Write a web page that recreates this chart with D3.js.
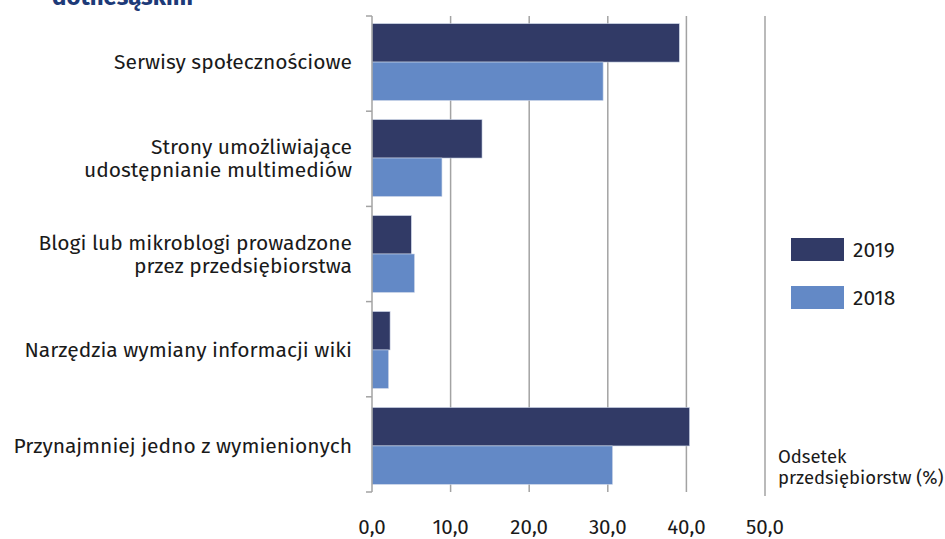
<!DOCTYPE html>
<html>
<head>
<meta charset="utf-8">
<script src="https://cdn.jsdelivr.net/npm/d3@7"></script>
<style>
  body { margin: 0; background: #fff; }
  svg { display: block; font-family: "Fira Sans", "Noto Sans", "Open Sans", sans-serif; }
</style>
</head>
<body>
<script>
const categories = [
    ["Serwisy społecznościowe"],
    ["Strony umożliwiające", "udostępnianie multimediów"],
    ["Blogi lub mikroblogi prowadzone", "przez przedsiębiorstwa"],
    ["Narzędzia wymiany informacji wiki"],
    ["Przynajmniej jedno z wymienionych"]
];
const years = ["2019", "2018"];
const values2019 = [39.1, 14.0, 5.0, 2.3, 40.4];
const values2018 = [29.4, 8.9, 5.4, 2.1, 30.6];
const ticks = [0, 10, 20, 30, 40, 50];

const colours = {"2019": "#313a66", "2018": "#6389c6"};

const width = 945, height = 539;
const svg = d3.select("body").append("svg")
    .attr("width", width)
    .attr("height", height);

// title, cut off by the top edge as in the source
svg.append("text")
    .attr("x", 52)
    .attr("y", 5)
    .attr("font-size", 24)
    .attr("font-weight", "bold")
    .attr("fill", "#1d3a78")
    .text("dotnesąskim");

const x = d3.scaleLinear().domain([0, 50]).range([372, 765]);
const y = d3.scaleBand()
    .domain(categories.map((c, i) => i))
    .range([16, 492])
    .paddingInner(0.2)
    .paddingOuter(0.08);
const ySub = d3.scaleBand().domain(years).range([0, y.bandwidth()]);

// gridlines
svg.append("g")
    .selectAll("line")
    .data(ticks.slice(1))
    .join("line")
    .attr("x1", d => x(d))
    .attr("x2", d => x(d))
    .attr("y1", 16)
    .attr("y2", (d, i) => i === ticks.length - 2 ? 496 : 492)
    .attr("stroke", "#a3a3a3")
    .attr("stroke-width", 1.5);

// bars
const series = [
    {year: "2019", vals: values2019},
    {year: "2018", vals: values2018}
];
series.forEach(s => {
    svg.append("g")
        .selectAll("rect")
        .data(s.vals)
        .join("rect")
        .attr("x", x(0))
        .attr("y", (d, i) => y(i) + ySub(s.year))
        .attr("width", d => x(d) - x(0))
        .attr("height", ySub.bandwidth())
        .attr("fill", colours[s.year])
        .attr("stroke", "#c9d3e6")
        .attr("stroke-width", 0.6);
});

// category axis
const yAxis = svg.append("g");
yAxis.append("line")
    .attr("x1", 372).attr("x2", 372)
    .attr("y1", 16).attr("y2", 492)
    .attr("stroke", "#a3a3a3").attr("stroke-width", 1.5);
const edges = d3.range(categories.length + 1).map(i => 16 + i * (476 / categories.length));
yAxis.selectAll(".tk")
    .data(edges)
    .join("line")
    .attr("x1", 366).attr("x2", 372)
    .attr("y1", d => d).attr("y2", d => d)
    .attr("stroke", "#a3a3a3").attr("stroke-width", 1.5);

// category labels
const lineH = 23;
svg.append("g")
    .selectAll("text")
    .data(categories)
    .join("text")
    .attr("text-anchor", "end")
    .attr("font-size", 21)
    .attr("fill", "#1a1a1a")
    .each(function(lines, i) {
        const cy = y(i) + y.bandwidth() / 2;
        const t0 = cy - (lines.length - 1) * lineH / 2 + 7;
        d3.select(this).selectAll("tspan")
            .data(lines)
            .join("tspan")
            .attr("x", 352)
            .attr("y", (l, j) => t0 + j * lineH)
            .text(l => l);
    });

// value axis labels
svg.append("g")
    .selectAll("text")
    .data(ticks)
    .join("text")
    .attr("x", d => x(d))
    .attr("y", 534)
    .attr("text-anchor", "middle")
    .attr("font-size", 20.5)
    .attr("fill", "#1a1a1a")
    .text(d => d3.format(".1f")(d).replace(".", ","));

// legend
const legend = svg.append("g");
years.forEach((yr, i) => {
    legend.append("rect")
        .attr("x", 791)
        .attr("y", 238 + i * 48)
        .attr("width", 53)
        .attr("height", 23)
        .attr("fill", colours[yr]);
    legend.append("text")
        .attr("x", 853)
        .attr("y", 257 + i * 48)
        .attr("font-size", 21)
        .attr("fill", "#1a1a1a")
        .text(yr);
});

// unit note
svg.append("text")
    .attr("font-size", 18.5)
    .attr("fill", "#1a1a1a")
    .selectAll("tspan")
    .data(["Odsetek", "przedsiębiorstw (%)"])
    .join("tspan")
    .attr("x", 778)
    .attr("y", (d, i) => 463 + i * 21)
    .text(d => d);
</script>
</body>
</html>
